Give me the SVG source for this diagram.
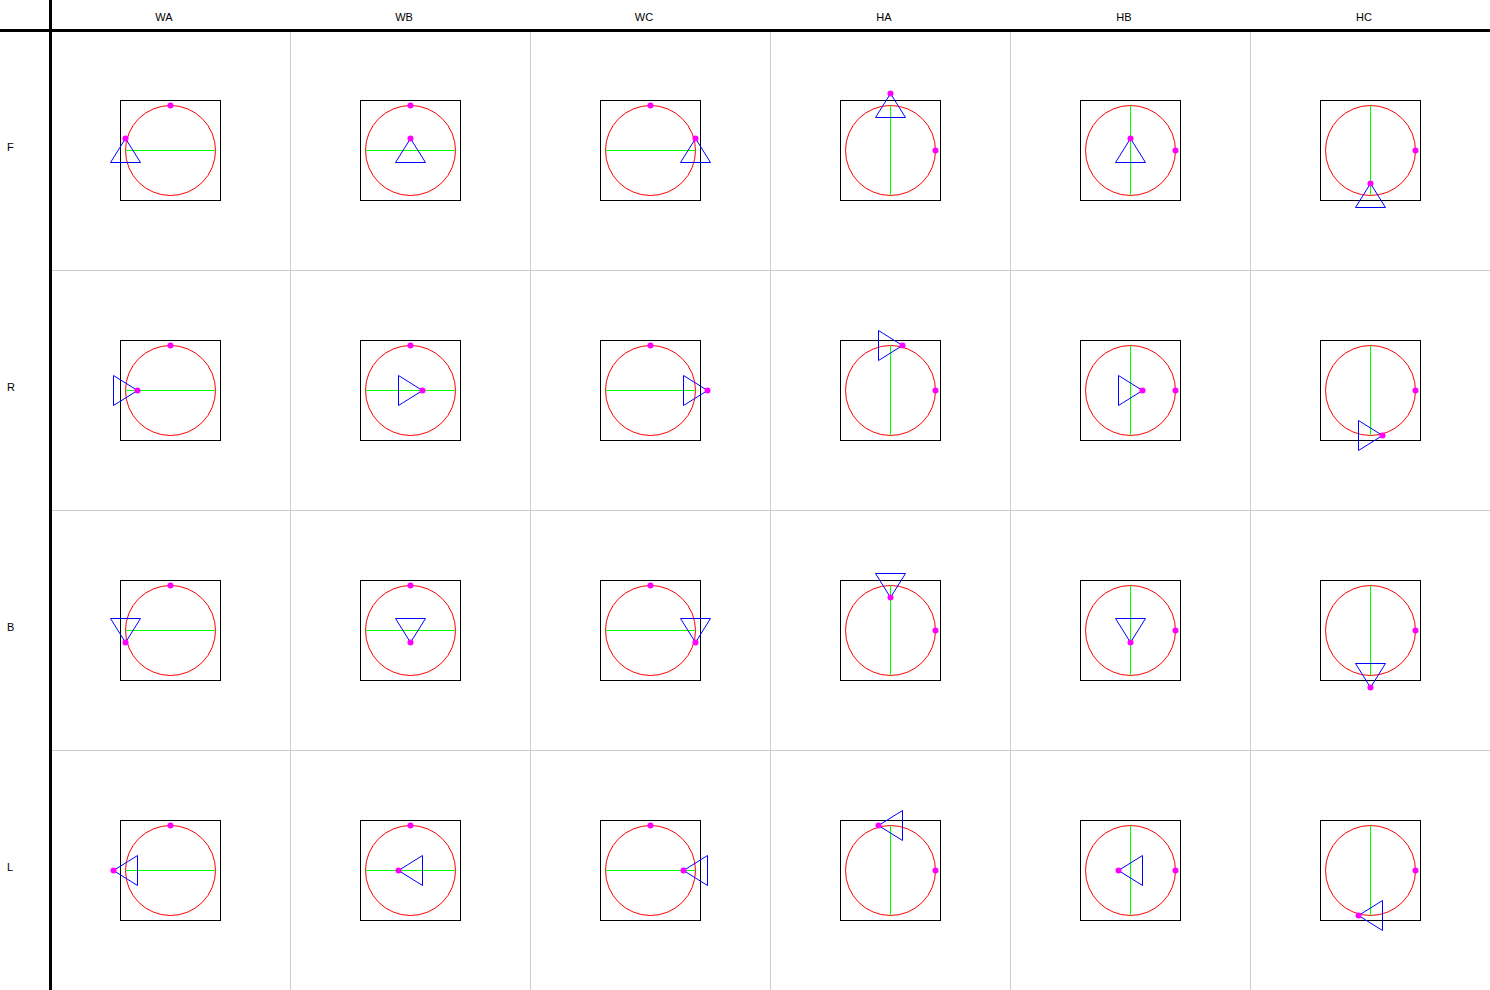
<svg xmlns="http://www.w3.org/2000/svg" xmlns:xlink="http://www.w3.org/1999/xlink" width="1490" height="990" viewBox="0 0 1490 990">
<style>
.bg{fill:#ffffff}
.grid{stroke:#cccccc;stroke-width:1;fill:none}
.axis{stroke:#000000;stroke-width:3;fill:none}
.lbl{font-family:"Liberation Sans",Arial,sans-serif;font-size:11px;fill:#000000}
.box{fill:none;stroke:#000000;stroke-width:1}
.circ{fill:none;stroke:#ff0000;stroke-width:1}
.guide{stroke:#00ff00;stroke-width:1}
.tri{fill:none;stroke:#0000ff;stroke-width:1}
.dot{fill:#ff00ff;stroke:none}
</style>
<defs>
<polygon id="triF" class="tri" points="0,-12 -15,12 15,12"/>
<polygon id="triR" class="tri" points="12,0 -12,-15 -12,15"/>
<polygon id="triB" class="tri" points="0,12 -15,-12 15,-12"/>
<polygon id="triL" class="tri" points="-12,0 12,-15 12,15"/>
<g id="frameW">
<rect class="box" x="-50" y="-50" width="100" height="100"/>
<circle class="circ" cx="0" cy="0" r="45"/>
<line class="guide" x1="-45" y1="0" x2="45" y2="0"/>
<circle class="dot" cx="0" cy="-45" r="3"/>
</g>
<g id="frameH">
<rect class="box" x="-50" y="-50" width="100" height="100"/>
<circle class="circ" cx="0" cy="0" r="45"/>
<line class="guide" x1="0" y1="-45" x2="0" y2="45"/>
<circle class="dot" cx="45" cy="0" r="3"/>
</g>
</defs>
<rect class="bg" x="0" y="0" width="1490" height="990"/>
<g id="grid">
<line class="grid" x1="290.5" y1="30" x2="290.5" y2="990"/>
<line class="grid" x1="530.5" y1="30" x2="530.5" y2="990"/>
<line class="grid" x1="770.5" y1="30" x2="770.5" y2="990"/>
<line class="grid" x1="1010.5" y1="30" x2="1010.5" y2="990"/>
<line class="grid" x1="1250.5" y1="30" x2="1250.5" y2="990"/>
<line class="grid" x1="50" y1="270.5" x2="1490" y2="270.5"/>
<line class="grid" x1="50" y1="510.5" x2="1490" y2="510.5"/>
<line class="grid" x1="50" y1="750.5" x2="1490" y2="750.5"/>
<line class="axis" x1="50.5" y1="0" x2="50.5" y2="990"/>
<line class="axis" x1="0" y1="30.5" x2="1490" y2="30.5"/>
</g>
<g id="labels">
<text class="lbl" x="164" y="21" text-anchor="middle">WA</text>
<text class="lbl" x="404" y="21" text-anchor="middle">WB</text>
<text class="lbl" x="644" y="21" text-anchor="middle">WC</text>
<text class="lbl" x="884" y="21" text-anchor="middle">HA</text>
<text class="lbl" x="1124" y="21" text-anchor="middle">HB</text>
<text class="lbl" x="1364" y="21" text-anchor="middle">HC</text>
<text class="lbl" x="7" y="151">F</text>
<text class="lbl" x="7" y="391">R</text>
<text class="lbl" x="7" y="631">B</text>
<text class="lbl" x="7" y="871">L</text>
</g>
<g id="F-WA" transform="translate(170.5,150.5)"><use href="#frameW"/><use href="#triF" x="-45" y="0"/><circle class="dot" cx="-45" cy="-12" r="3"/></g>
<g id="F-WB" transform="translate(410.5,150.5)"><use href="#frameW"/><use href="#triF" x="0" y="0"/><circle class="dot" cx="0" cy="-12" r="3"/></g>
<g id="F-WC" transform="translate(650.5,150.5)"><use href="#frameW"/><use href="#triF" x="45" y="0"/><circle class="dot" cx="45" cy="-12" r="3"/></g>
<g id="F-HA" transform="translate(890.5,150.5)"><use href="#frameH"/><use href="#triF" x="0" y="-45"/><circle class="dot" cx="0" cy="-57" r="3"/></g>
<g id="F-HB" transform="translate(1130.5,150.5)"><use href="#frameH"/><use href="#triF" x="0" y="0"/><circle class="dot" cx="0" cy="-12" r="3"/></g>
<g id="F-HC" transform="translate(1370.5,150.5)"><use href="#frameH"/><use href="#triF" x="0" y="45"/><circle class="dot" cx="0" cy="33" r="3"/></g>
<g id="R-WA" transform="translate(170.5,390.5)"><use href="#frameW"/><use href="#triR" x="-45" y="0"/><circle class="dot" cx="-33" cy="0" r="3"/></g>
<g id="R-WB" transform="translate(410.5,390.5)"><use href="#frameW"/><use href="#triR" x="0" y="0"/><circle class="dot" cx="12" cy="0" r="3"/></g>
<g id="R-WC" transform="translate(650.5,390.5)"><use href="#frameW"/><use href="#triR" x="45" y="0"/><circle class="dot" cx="57" cy="0" r="3"/></g>
<g id="R-HA" transform="translate(890.5,390.5)"><use href="#frameH"/><use href="#triR" x="0" y="-45"/><circle class="dot" cx="12" cy="-45" r="3"/></g>
<g id="R-HB" transform="translate(1130.5,390.5)"><use href="#frameH"/><use href="#triR" x="0" y="0"/><circle class="dot" cx="12" cy="0" r="3"/></g>
<g id="R-HC" transform="translate(1370.5,390.5)"><use href="#frameH"/><use href="#triR" x="0" y="45"/><circle class="dot" cx="12" cy="45" r="3"/></g>
<g id="B-WA" transform="translate(170.5,630.5)"><use href="#frameW"/><use href="#triB" x="-45" y="0"/><circle class="dot" cx="-45" cy="12" r="3"/></g>
<g id="B-WB" transform="translate(410.5,630.5)"><use href="#frameW"/><use href="#triB" x="0" y="0"/><circle class="dot" cx="0" cy="12" r="3"/></g>
<g id="B-WC" transform="translate(650.5,630.5)"><use href="#frameW"/><use href="#triB" x="45" y="0"/><circle class="dot" cx="45" cy="12" r="3"/></g>
<g id="B-HA" transform="translate(890.5,630.5)"><use href="#frameH"/><use href="#triB" x="0" y="-45"/><circle class="dot" cx="0" cy="-33" r="3"/></g>
<g id="B-HB" transform="translate(1130.5,630.5)"><use href="#frameH"/><use href="#triB" x="0" y="0"/><circle class="dot" cx="0" cy="12" r="3"/></g>
<g id="B-HC" transform="translate(1370.5,630.5)"><use href="#frameH"/><use href="#triB" x="0" y="45"/><circle class="dot" cx="0" cy="57" r="3"/></g>
<g id="L-WA" transform="translate(170.5,870.5)"><use href="#frameW"/><use href="#triL" x="-45" y="0"/><circle class="dot" cx="-57" cy="0" r="3"/></g>
<g id="L-WB" transform="translate(410.5,870.5)"><use href="#frameW"/><use href="#triL" x="0" y="0"/><circle class="dot" cx="-12" cy="0" r="3"/></g>
<g id="L-WC" transform="translate(650.5,870.5)"><use href="#frameW"/><use href="#triL" x="45" y="0"/><circle class="dot" cx="33" cy="0" r="3"/></g>
<g id="L-HA" transform="translate(890.5,870.5)"><use href="#frameH"/><use href="#triL" x="0" y="-45"/><circle class="dot" cx="-12" cy="-45" r="3"/></g>
<g id="L-HB" transform="translate(1130.5,870.5)"><use href="#frameH"/><use href="#triL" x="0" y="0"/><circle class="dot" cx="-12" cy="0" r="3"/></g>
<g id="L-HC" transform="translate(1370.5,870.5)"><use href="#frameH"/><use href="#triL" x="0" y="45"/><circle class="dot" cx="-12" cy="45" r="3"/></g>
</svg>
